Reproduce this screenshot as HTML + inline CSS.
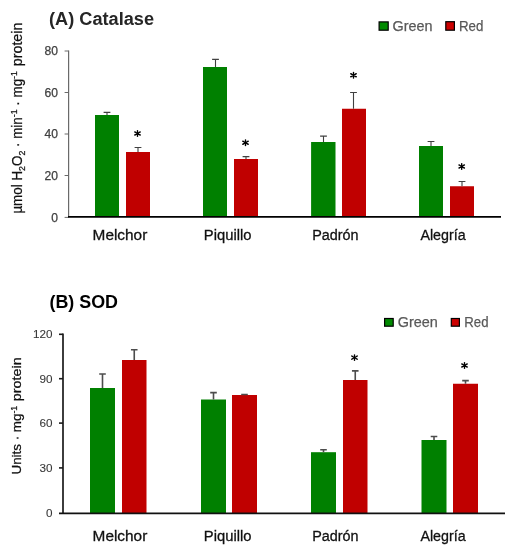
<!DOCTYPE html>
<html><head><meta charset="utf-8"><style>
html,body{margin:0;padding:0;background:#fff;width:512px;height:550px;overflow:hidden;}
svg{display:block;font-family:"Liberation Sans", sans-serif;}
svg{will-change:transform;}
</style></head><body>
<svg width="512" height="550" viewBox="0 0 512 550" font-family="Liberation Sans, sans-serif"><rect x="95" y="115" width="24" height="102" fill="#008000"/><path d="M107 115V112.4M103.6 112.4H110.4" stroke="#404040" stroke-width="1.1" fill="none"/><rect x="126" y="152" width="24" height="65" fill="#C00000"/><path d="M138 152V147.5M134.6 147.5H141.4" stroke="#404040" stroke-width="1.1" fill="none"/><path d="M138.04 133.5L138.24 130.8L136.76 130.8L136.96 133.5ZM136.76 130.8a0.74 0.74 0 1 0 1.49 0a0.74 0.74 0 1 0 -1.49 0ZM137.77 133.97L140.56 132.59L139.82 131.3L137.23 133.03ZM139.45 131.95a0.74 0.74 0 1 0 1.49 0a0.74 0.74 0 1 0 -1.49 0ZM137.77 133.03L135.18 131.3L134.44 132.59L137.23 133.97ZM134.07 131.95a0.74 0.74 0 1 0 1.49 0a0.74 0.74 0 1 0 -1.49 0ZM136.96 133.5L136.76 136.2L138.24 136.2L138.04 133.5ZM136.76 136.2a0.74 0.74 0 1 0 1.49 0a0.74 0.74 0 1 0 -1.49 0ZM137.23 133.03L134.44 134.41L135.18 135.7L137.77 133.97ZM134.07 135.05a0.74 0.74 0 1 0 1.49 0a0.74 0.74 0 1 0 -1.49 0ZM137.23 133.97L139.82 135.7L140.56 134.41L137.77 133.03ZM139.45 135.05a0.74 0.74 0 1 0 1.49 0a0.74 0.74 0 1 0 -1.49 0ZM136.56 133.5a0.94 0.94 0 1 0 1.89 0a0.94 0.94 0 1 0 -1.89 0Z" fill="#000"/><rect x="203" y="67" width="24" height="150" fill="#008000"/><path d="M215.5 67V59.4M212.1 59.4H218.9" stroke="#404040" stroke-width="1.1" fill="none"/><rect x="234" y="159" width="24" height="58" fill="#C00000"/><path d="M246 159V156.6M242.6 156.6H249.4" stroke="#404040" stroke-width="1.1" fill="none"/><path d="M246.04 142.7L246.24 140L244.76 140L244.96 142.7ZM244.76 140a0.74 0.74 0 1 0 1.49 0a0.74 0.74 0 1 0 -1.49 0ZM245.77 143.17L248.56 141.79L247.82 140.5L245.23 142.23ZM247.45 141.15a0.74 0.74 0 1 0 1.49 0a0.74 0.74 0 1 0 -1.49 0ZM245.77 142.23L243.18 140.5L242.44 141.79L245.23 143.17ZM242.07 141.15a0.74 0.74 0 1 0 1.49 0a0.74 0.74 0 1 0 -1.49 0ZM244.96 142.7L244.76 145.4L246.24 145.4L246.04 142.7ZM244.76 145.4a0.74 0.74 0 1 0 1.49 0a0.74 0.74 0 1 0 -1.49 0ZM245.23 142.23L242.44 143.61L243.18 144.9L245.77 143.17ZM242.07 144.25a0.74 0.74 0 1 0 1.49 0a0.74 0.74 0 1 0 -1.49 0ZM245.23 143.17L247.82 144.9L248.56 143.61L245.77 142.23ZM247.45 144.25a0.74 0.74 0 1 0 1.49 0a0.74 0.74 0 1 0 -1.49 0ZM244.56 142.7a0.94 0.94 0 1 0 1.89 0a0.94 0.94 0 1 0 -1.89 0Z" fill="#000"/><rect x="311.1" y="142" width="24.4" height="75" fill="#008000"/><path d="M323.5 142V136.1M320.1 136.1H326.9" stroke="#404040" stroke-width="1.1" fill="none"/><rect x="342" y="108.75" width="24" height="108.25" fill="#C00000"/><path d="M353.5 108.75V92.5M350.1 92.5H356.9" stroke="#404040" stroke-width="1.1" fill="none"/><path d="M354.04 75.3L354.24 72.6L352.76 72.6L352.96 75.3ZM352.76 72.6a0.74 0.74 0 1 0 1.49 0a0.74 0.74 0 1 0 -1.49 0ZM353.77 75.77L356.56 74.39L355.82 73.1L353.23 74.83ZM355.45 73.75a0.74 0.74 0 1 0 1.49 0a0.74 0.74 0 1 0 -1.49 0ZM353.77 74.83L351.18 73.1L350.44 74.39L353.23 75.77ZM350.07 73.75a0.74 0.74 0 1 0 1.49 0a0.74 0.74 0 1 0 -1.49 0ZM352.96 75.3L352.76 78L354.24 78L354.04 75.3ZM352.76 78a0.74 0.74 0 1 0 1.49 0a0.74 0.74 0 1 0 -1.49 0ZM353.23 74.83L350.44 76.21L351.18 77.5L353.77 75.77ZM350.07 76.85a0.74 0.74 0 1 0 1.49 0a0.74 0.74 0 1 0 -1.49 0ZM353.23 75.77L355.82 77.5L356.56 76.21L353.77 74.83ZM355.45 76.85a0.74 0.74 0 1 0 1.49 0a0.74 0.74 0 1 0 -1.49 0ZM352.56 75.3a0.94 0.94 0 1 0 1.89 0a0.94 0.94 0 1 0 -1.89 0Z" fill="#000"/><rect x="419" y="146" width="24" height="71" fill="#008000"/><path d="M431 146V141.5M427.6 141.5H434.4" stroke="#404040" stroke-width="1.1" fill="none"/><rect x="450" y="186.25" width="24" height="30.75" fill="#C00000"/><path d="M462 186.25V181.5M458.6 181.5H465.4" stroke="#404040" stroke-width="1.1" fill="none"/><path d="M462.24 166.5L462.44 163.8L460.96 163.8L461.16 166.5ZM460.96 163.8a0.74 0.74 0 1 0 1.49 0a0.74 0.74 0 1 0 -1.49 0ZM461.97 166.97L464.76 165.59L464.02 164.3L461.43 166.03ZM463.65 164.95a0.74 0.74 0 1 0 1.49 0a0.74 0.74 0 1 0 -1.49 0ZM461.97 166.03L459.38 164.3L458.64 165.59L461.43 166.97ZM458.27 164.95a0.74 0.74 0 1 0 1.49 0a0.74 0.74 0 1 0 -1.49 0ZM461.16 166.5L460.96 169.2L462.44 169.2L462.24 166.5ZM460.96 169.2a0.74 0.74 0 1 0 1.49 0a0.74 0.74 0 1 0 -1.49 0ZM461.43 166.03L458.64 167.41L459.38 168.7L461.97 166.97ZM458.27 168.05a0.74 0.74 0 1 0 1.49 0a0.74 0.74 0 1 0 -1.49 0ZM461.43 166.97L464.02 168.7L464.76 167.41L461.97 166.03ZM463.65 168.05a0.74 0.74 0 1 0 1.49 0a0.74 0.74 0 1 0 -1.49 0ZM460.75 166.5a0.94 0.94 0 1 0 1.89 0a0.94 0.94 0 1 0 -1.89 0Z" fill="#000"/><path d="M68.6 50.5V217" stroke="#6a6a6a" stroke-width="1.2"/><path d="M64.6 51H68.6" stroke="#6a6a6a" stroke-width="1"/><path d="M64.6 92.5H68.6" stroke="#6a6a6a" stroke-width="1"/><path d="M64.6 134H68.6" stroke="#6a6a6a" stroke-width="1"/><path d="M64.6 175.5H68.6" stroke="#6a6a6a" stroke-width="1"/><path d="M64.6 217.4H68.6" stroke="#6a6a6a" stroke-width="1"/><path d="M68 216.9H501" stroke="#000" stroke-width="1.8"/><text x="49" y="25.2" font-size="18.7" font-weight="bold" fill="#262626" text-anchor="start" textLength="105" lengthAdjust="spacingAndGlyphs">(A) Catalase</text><text x="392.6" y="30.7" font-size="14.2" font-weight="normal" fill="#595959" text-anchor="start" textLength="40" lengthAdjust="spacingAndGlyphs" stroke="#595959" stroke-width="0.25">Green</text><text x="459" y="30.7" font-size="14.2" font-weight="normal" fill="#595959" text-anchor="start" textLength="24.4" lengthAdjust="spacingAndGlyphs" stroke="#595959" stroke-width="0.25">Red</text><text x="57.9" y="55.2" font-size="12.1" font-weight="normal" fill="#404040" text-anchor="end" stroke="#404040" stroke-width="0.25">80</text><text x="57.9" y="96.7" font-size="12.1" font-weight="normal" fill="#404040" text-anchor="end" stroke="#404040" stroke-width="0.25">60</text><text x="57.9" y="138.2" font-size="12.1" font-weight="normal" fill="#404040" text-anchor="end" stroke="#404040" stroke-width="0.25">40</text><text x="57.9" y="179.9" font-size="12.1" font-weight="normal" fill="#404040" text-anchor="end" stroke="#404040" stroke-width="0.25">20</text><text x="57.9" y="221.5" font-size="12.1" font-weight="normal" fill="#404040" text-anchor="end" stroke="#404040" stroke-width="0.25">0</text><text x="92.6" y="239.5" font-size="15.4" font-weight="normal" fill="#111" text-anchor="start" textLength="54.7" lengthAdjust="spacingAndGlyphs" stroke="#111" stroke-width="0.3">Melchor</text><text x="203.8" y="239.5" font-size="15.4" font-weight="normal" fill="#111" text-anchor="start" textLength="47.7" lengthAdjust="spacingAndGlyphs" stroke="#111" stroke-width="0.3">Piquillo</text><text x="312.2" y="239.5" font-size="15.4" font-weight="normal" fill="#111" text-anchor="start" textLength="46.4" lengthAdjust="spacingAndGlyphs" stroke="#111" stroke-width="0.3">Padrón</text><text x="420.4" y="239.5" font-size="15.4" font-weight="normal" fill="#111" text-anchor="start" textLength="45.3" lengthAdjust="spacingAndGlyphs" stroke="#111" stroke-width="0.3">Alegría</text><g transform="translate(21.8 213.6) rotate(-90)"><text x="0" y="0" font-size="14.5" font-weight="normal" fill="#111" text-anchor="start" textLength="142.5" lengthAdjust="spacingAndGlyphs" stroke="#111" stroke-width="0.25">µmol H<tspan dy="3" font-size="9.5">2</tspan><tspan dy="-3">O</tspan><tspan dy="3" font-size="9.5">2</tspan><tspan dy="-3"> · min</tspan><tspan dy="-5" font-size="9.5">-1</tspan><tspan dy="5"> · mg</tspan><tspan dy="-5" font-size="9.5">-1</tspan></text></g><g transform="translate(21.8 66.2) rotate(-90)"><text x="0" y="0" font-size="14.5" font-weight="normal" fill="#111" text-anchor="start" textLength="43.6" lengthAdjust="spacingAndGlyphs" stroke="#111" stroke-width="0.25">protein</text></g><rect x="379.1" y="21.9" width="9.1" height="8.3" fill="#008a00" stroke="#000" stroke-width="1.2"/><rect x="445.8" y="21.7" width="8.6" height="8.5" fill="#CC0000" stroke="#000" stroke-width="1.2"/><rect x="90" y="388" width="25" height="125" fill="#008000"/><path d="M102.5 388V374M99.2 374H105.8" stroke="#4d4d4d" stroke-width="1.6" fill="none"/><rect x="122" y="360" width="24.5" height="153" fill="#C00000"/><path d="M134.25 360V349.75M130.95 349.75H137.55" stroke="#4d4d4d" stroke-width="1.6" fill="none"/><rect x="201" y="399.5" width="25" height="113.5" fill="#008000"/><path d="M213.5 399.5V392.6M210.2 392.6H216.8" stroke="#4d4d4d" stroke-width="1.6" fill="none"/><rect x="232" y="395" width="25" height="118" fill="#C00000"/><path d="M244.5 395V394.5M241.2 394.5H247.8" stroke="#4d4d4d" stroke-width="1.6" fill="none"/><rect x="311" y="452.2" width="25" height="60.8" fill="#008000"/><path d="M323.5 452.2V449.7M320.2 449.7H326.8" stroke="#4d4d4d" stroke-width="1.6" fill="none"/><rect x="343" y="380" width="24.5" height="133" fill="#C00000"/><path d="M355.25 380V370.9M351.95 370.9H358.55" stroke="#4d4d4d" stroke-width="1.6" fill="none"/><path d="M355.04 357.6L355.24 354.9L353.76 354.9L353.96 357.6ZM353.76 354.9a0.74 0.74 0 1 0 1.49 0a0.74 0.74 0 1 0 -1.49 0ZM354.77 358.07L357.56 356.69L356.82 355.4L354.23 357.13ZM356.45 356.05a0.74 0.74 0 1 0 1.49 0a0.74 0.74 0 1 0 -1.49 0ZM354.77 357.13L352.18 355.4L351.44 356.69L354.23 358.07ZM351.07 356.05a0.74 0.74 0 1 0 1.49 0a0.74 0.74 0 1 0 -1.49 0ZM353.96 357.6L353.76 360.3L355.24 360.3L355.04 357.6ZM353.76 360.3a0.74 0.74 0 1 0 1.49 0a0.74 0.74 0 1 0 -1.49 0ZM354.23 357.13L351.44 358.51L352.18 359.8L354.77 358.07ZM351.07 359.15a0.74 0.74 0 1 0 1.49 0a0.74 0.74 0 1 0 -1.49 0ZM354.23 358.07L356.82 359.8L357.56 358.51L354.77 357.13ZM356.45 359.15a0.74 0.74 0 1 0 1.49 0a0.74 0.74 0 1 0 -1.49 0ZM353.56 357.6a0.94 0.94 0 1 0 1.89 0a0.94 0.94 0 1 0 -1.89 0Z" fill="#000"/><rect x="421.5" y="440" width="25" height="73" fill="#008000"/><path d="M434 440V436.5M430.7 436.5H437.3" stroke="#4d4d4d" stroke-width="1.6" fill="none"/><rect x="453" y="383.75" width="25" height="129.25" fill="#C00000"/><path d="M465.5 383.75V380.6M462.2 380.6H468.8" stroke="#4d4d4d" stroke-width="1.6" fill="none"/><path d="M465.04 365.5L465.24 362.8L463.76 362.8L463.96 365.5ZM463.76 362.8a0.74 0.74 0 1 0 1.49 0a0.74 0.74 0 1 0 -1.49 0ZM464.77 365.97L467.56 364.59L466.82 363.3L464.23 365.03ZM466.45 363.95a0.74 0.74 0 1 0 1.49 0a0.74 0.74 0 1 0 -1.49 0ZM464.77 365.03L462.18 363.3L461.44 364.59L464.23 365.97ZM461.07 363.95a0.74 0.74 0 1 0 1.49 0a0.74 0.74 0 1 0 -1.49 0ZM463.96 365.5L463.76 368.2L465.24 368.2L465.04 365.5ZM463.76 368.2a0.74 0.74 0 1 0 1.49 0a0.74 0.74 0 1 0 -1.49 0ZM464.23 365.03L461.44 366.41L462.18 367.7L464.77 365.97ZM461.07 367.05a0.74 0.74 0 1 0 1.49 0a0.74 0.74 0 1 0 -1.49 0ZM464.23 365.97L466.82 367.7L467.56 366.41L464.77 365.03ZM466.45 367.05a0.74 0.74 0 1 0 1.49 0a0.74 0.74 0 1 0 -1.49 0ZM463.56 365.5a0.94 0.94 0 1 0 1.89 0a0.94 0.94 0 1 0 -1.89 0Z" fill="#000"/><path d="M63 333.5V513" stroke="#1a1a1a" stroke-width="1.7"/><path d="M59 334.3H63" stroke="#1a1a1a" stroke-width="1.6"/><path d="M59 378.7H63" stroke="#1a1a1a" stroke-width="1.6"/><path d="M59 423.1H63" stroke="#1a1a1a" stroke-width="1.6"/><path d="M59 467.9H63" stroke="#1a1a1a" stroke-width="1.6"/><path d="M59 513.3H505" stroke="#111" stroke-width="1.7"/><text x="49.5" y="307.8" font-size="18.6" font-weight="bold" fill="#000" text-anchor="start" textLength="68.5" lengthAdjust="spacingAndGlyphs">(B) SOD</text><text x="397.7" y="326.7" font-size="14.2" font-weight="normal" fill="#595959" text-anchor="start" textLength="40.1" lengthAdjust="spacingAndGlyphs" stroke="#595959" stroke-width="0.25">Green</text><text x="464.35" y="326.7" font-size="14.2" font-weight="normal" fill="#595959" text-anchor="start" textLength="24.2" lengthAdjust="spacingAndGlyphs" stroke="#595959" stroke-width="0.25">Red</text><text x="52.6" y="338.1" font-size="11.7" font-weight="normal" fill="#383838" text-anchor="end" stroke="#383838" stroke-width="0.1">120</text><text x="52.6" y="382.6" font-size="11.7" font-weight="normal" fill="#383838" text-anchor="end" stroke="#383838" stroke-width="0.1">90</text><text x="52.6" y="427.1" font-size="11.7" font-weight="normal" fill="#383838" text-anchor="end" stroke="#383838" stroke-width="0.1">60</text><text x="52.6" y="472.1" font-size="11.7" font-weight="normal" fill="#383838" text-anchor="end" stroke="#383838" stroke-width="0.1">30</text><text x="52.6" y="517.1" font-size="11.7" font-weight="normal" fill="#383838" text-anchor="end" stroke="#383838" stroke-width="0.1">0</text><text x="92.6" y="540.6" font-size="15.4" font-weight="normal" fill="#111" text-anchor="start" textLength="54.7" lengthAdjust="spacingAndGlyphs" stroke="#111" stroke-width="0.3">Melchor</text><text x="203.8" y="540.6" font-size="15.4" font-weight="normal" fill="#111" text-anchor="start" textLength="47.7" lengthAdjust="spacingAndGlyphs" stroke="#111" stroke-width="0.3">Piquillo</text><text x="312.2" y="540.6" font-size="15.4" font-weight="normal" fill="#111" text-anchor="start" textLength="46.4" lengthAdjust="spacingAndGlyphs" stroke="#111" stroke-width="0.3">Padrón</text><text x="420.4" y="540.6" font-size="15.4" font-weight="normal" fill="#111" text-anchor="start" textLength="45.3" lengthAdjust="spacingAndGlyphs" stroke="#111" stroke-width="0.3">Alegría</text><g transform="translate(21.2 474.5) rotate(-90)"><text x="0" y="0" font-size="13" font-weight="normal" fill="#111" text-anchor="start" textLength="68.7" lengthAdjust="spacingAndGlyphs" stroke="#111" stroke-width="0.25">Units · mg<tspan dy="-4.5" font-size="8.5">-1</tspan></text></g><g transform="translate(21.2 401.2) rotate(-90)"><text x="0" y="0" font-size="13" font-weight="normal" fill="#111" text-anchor="start" textLength="43.8" lengthAdjust="spacingAndGlyphs" stroke="#111" stroke-width="0.25">protein</text></g><rect x="384.6" y="318.5" width="8.6" height="7.7" fill="#008a00" stroke="#000" stroke-width="1.2"/><rect x="451.3" y="318.5" width="8.1" height="7.7" fill="#CC0000" stroke="#000" stroke-width="1.2"/></svg>
</body></html>
